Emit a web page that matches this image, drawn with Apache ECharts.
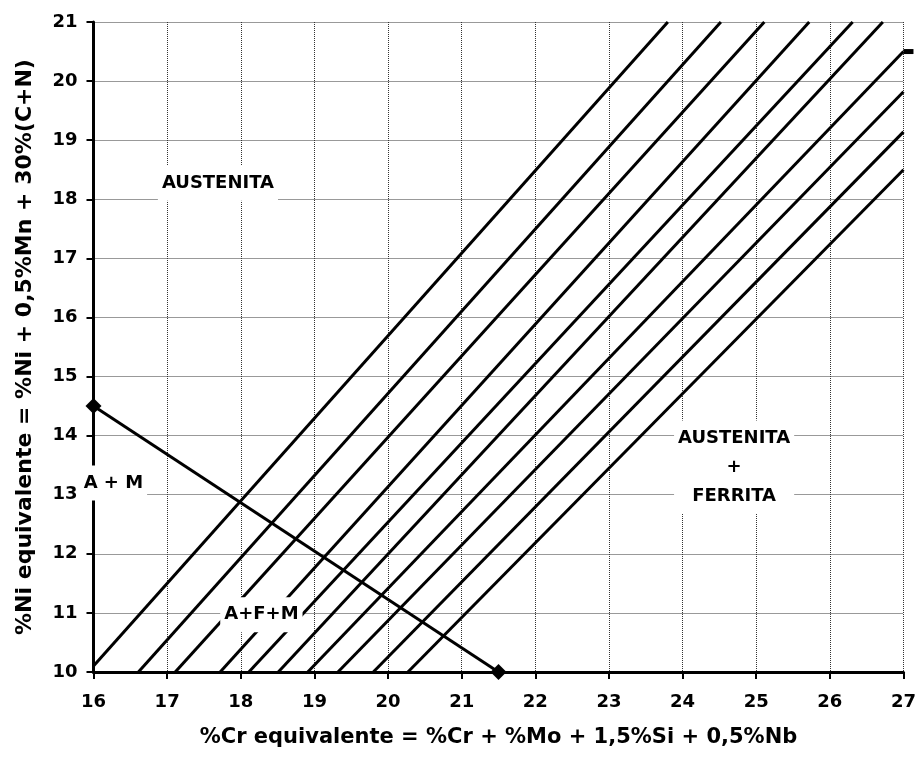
<!DOCTYPE html>
<html>
<head>
<meta charset="utf-8">
<script src="https://cdn.jsdelivr.net/npm/echarts@6/dist/echarts.min.js"></script>
<style>
  html, body { margin: 0; padding: 0; background: #fff; }
  #chart { width: 919px; height: 761px; }
</style>
</head>
<body>
<div id="chart"></div>
<script>
// Iso-ferrite lines: start and end points (Cr eq, Ni eq)
const lineStarts = [
  [16, 10.1], [16.61, 10], [17.11, 10], [17.72, 10], [18.11, 10],
  [18.51, 10], [18.91, 10], [19.32, 10], [19.80, 10], [20.27, 10]
];
const lineEnds = [
  [23.80, 21], [24.52, 21], [25.11, 21], [25.72, 21], [26.31, 21],
  [26.72, 21], [27, 20.5], [27, 19.82], [27, 19.14], [27, 18.5]
];

// Dilution line between the two marked compositions
const dilutionLine = [[16, 14.5], [21.5, 10]];

// End mark on the right border
const edgeMark = [[27, 20.5]];

// Region labels [x, y, text]
const regionLabels = [
  [17.69, 18.27, 'AUSTENITA'],
  [24.70, 13.47, 'AUSTENITA\n+\nFERRITA'],
  [16.27, 13.2, 'A + M'],
  [18.28, 10.97, 'A+F+M']
];

const xMin = 16, xMax = 27, yMin = 10, yMax = 21;

const textFont = 'DejaVu Sans, Verdana, sans-serif';

const series = [];
lineStarts.forEach((s, i) => {
  series.push({
    type: 'line',
    data: [s, lineEnds[i]],
    symbol: 'none',
    lineStyle: { color: '#000', width: 3 },
    silent: true,
    z: 3
  });
});

series.push({
  type: 'line',
  data: dilutionLine,
  symbol: 'diamond',
  symbolSize: 16,
  itemStyle: { color: '#000' },
  lineStyle: { color: '#000', width: 3 },
  clip: false,
  z: 4
});

series.push({
  type: 'scatter',
  data: edgeMark,
  symbol: 'rect',
  symbolSize: [10, 5],
  symbolOffset: [5, 0],
  itemStyle: { color: '#000', opacity: 1 },
  clip: false,
  z: 4
});

series.push({
  type: 'scatter',
  data: regionLabels.map(r => ({ value: [r[0], r[1]], name: r[2] })),
  symbolSize: 0,
  clip: false,
  z: 10,
  itemStyle: { opacity: 1 },
  label: {
    show: true,
    position: 'inside',
    formatter: p => p.name,
    color: '#000',
    opacity: 1,
    fontFamily: textFont,
    fontWeight: 'bold',
    fontSize: 18,
    lineHeight: 29,
    align: 'center',
    verticalAlign: 'middle',
    backgroundColor: '#fff',
    padding: [3, 4]
  }
});

const chart = echarts.init(document.getElementById('chart'), null, { renderer: 'canvas' });
chart.setOption({
  animation: false,
  backgroundColor: '#fff',
  grid: { left: 93.5, right: 15, top: 22, bottom: 89, containLabel: false },
  xAxis: {
    type: 'value',
    min: xMin, max: xMax, interval: 1,
    name: '%Cr equivalente = %Cr + %Mo + 1,5%Si + 0,5%Nb',
    nameLocation: 'middle',
    nameGap: 55,
    nameTextStyle: { fontFamily: textFont, fontWeight: 'bold', fontSize: 21, color: '#000' },
    axisLine: { show: true, lineStyle: { color: '#000', width: 3 } },
    axisTick: { show: true, length: 7, lineStyle: { color: '#000', width: 2 } },
    axisLabel: { fontFamily: textFont, fontWeight: 'bold', fontSize: 18, color: '#000', margin: 21 },
    splitLine: { show: true, lineStyle: { color: '#333', width: 1, type: 'dotted' } }
  },
  yAxis: {
    type: 'value',
    min: yMin, max: yMax, interval: 1,
    name: '%Ni equivalente = %Ni + 0,5%Mn + 30%(C+N)',
    nameLocation: 'middle',
    nameGap: 57,
    nameRotate: 90,
    nameTextStyle: { fontFamily: textFont, fontWeight: 'bold', fontSize: 22, color: '#000' },
    axisLine: { show: true, lineStyle: { color: '#000', width: 3 } },
    axisTick: { show: true, length: 7, lineStyle: { color: '#000', width: 2 } },
    axisLabel: { fontFamily: textFont, fontWeight: 'bold', fontSize: 18, color: '#000', margin: 16 },
    splitLine: { show: true, lineStyle: { color: '#333', width: 1, type: 'dotted' } }
  },
  series: series
});
</script>
</body>
</html>
